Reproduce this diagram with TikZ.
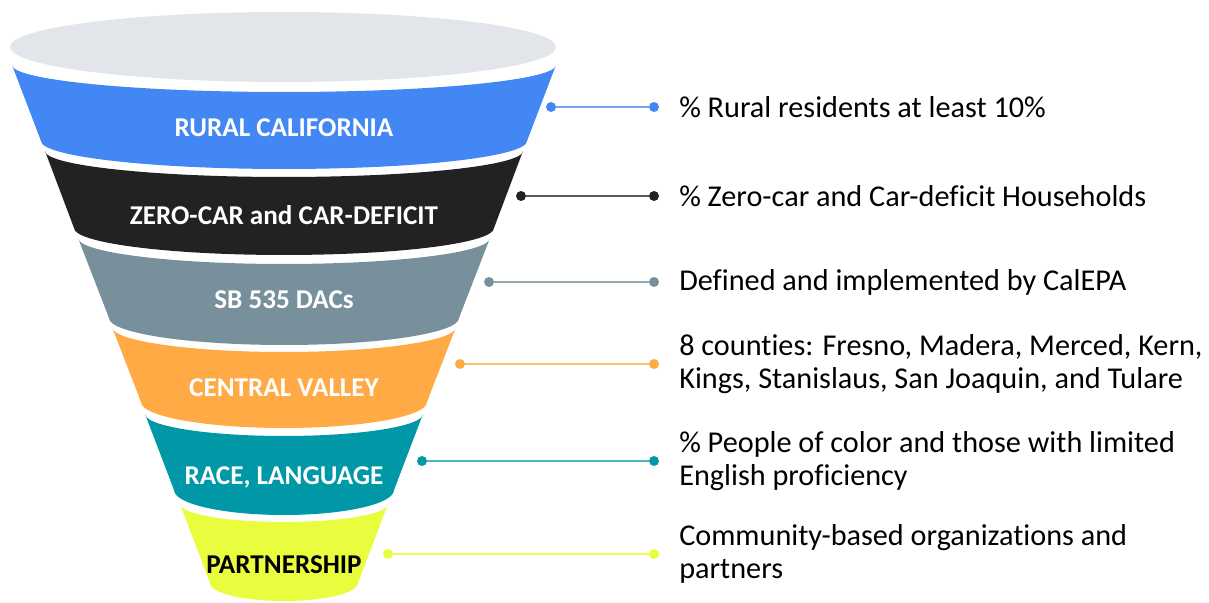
\documentclass[tikz,border=0pt]{standalone}
\usepackage{fontspec}
\setmainfont{Carlito}[Ligatures=NoCommon]
\usepackage{tikz}
\usetikzlibrary{positioning}

\definecolor{rimgray}{HTML}{E2E5EA}
\definecolor{ruralblue}{HTML}{4287F4}
\definecolor{carblack}{HTML}{222222}
\definecolor{dacgray}{HTML}{78909C}
\definecolor{valleyorange}{HTML}{FFAA44}
\definecolor{raceteal}{HTML}{0097A7}
\definecolor{partneryellow}{HTML}{EAFC3E}

\begin{document}
\begin{tikzpicture}[x=0.025cm, y=0.025cm,
    bandlabel/.style={text=white, font=\fontsize{19.3}{23}\selectfont\bfseries},
    dot/.style={circle, fill=#1, inner sep=0pt, minimum size=0.25cm},
    link/.style={line width=1.4pt, draw=#1},
    note/.style={anchor=west, inner sep=0pt, align=left, text=black,
      font=\fontsize{21.5}{24}\selectfont}]
    \useasboundingbox (0,0) rectangle (1209,603);

    % funnel rim
    \fill[rimgray] (283,556) ellipse [x radius=273, y radius=35];

    % bands, top to bottom
    \fill[ruralblue] (12,538) arc[start angle=180, end angle=360, x radius=272, y radius=27]
      -- (527,462) arc[start angle=0, end angle=-180, x radius=243, y radius=28] -- cycle;
    \fill[carblack] (45,452) arc[start angle=180, end angle=360, x radius=239, y radius=26]
      -- (494,375) arc[start angle=0, end angle=-180, x radius=210, y radius=27] -- cycle;
    \fill[dacgray] (78,365) arc[start angle=180, end angle=360, x radius=206, y radius=26]
      -- (459,285) arc[start angle=0, end angle=-180, x radius=175, y radius=27] -- cycle;
    \fill[valleyorange] (112,276) arc[start angle=180, end angle=360, x radius=172, y radius=25]
      -- (427,201) arc[start angle=0, end angle=-180, x radius=143, y radius=26] -- cycle;
    \fill[raceteal] (145,189) arc[start angle=180, end angle=360, x radius=139, y radius=22]
      -- (394,113) arc[start angle=0, end angle=-180, x radius=110, y radius=25] -- cycle;
    \fill[partneryellow] (180,99) arc[start angle=180, end angle=360, x radius=104, y radius=18]
      -- (358,20) arc[start angle=0, end angle=-180, x radius=74, y radius=18] -- cycle;

    \node[bandlabel] (rural) at (284,475) {RURAL CALIFORNIA};
    \node[bandlabel] (zerocar) at (284,388) {ZERO-CAR and CAR-DEFICIT};
    \node[bandlabel] (dacs) at (284,303) {SB 535 DACs};
    \node[bandlabel] (valley) at (284,215) {CENTRAL VALLEY};
    \node[bandlabel] (race) at (284,126) {RACE, LANGUAGE};
    \node[bandlabel, text=black] (partner) at (284,38) {PARTNERSHIP};

    % connectors
    \node[dot=ruralblue] (ruralL) at (551,496) {};
    \node[dot=ruralblue] (ruralR) at (654,496) {};
    \node[dot=carblack] (zerocarL) at (521,407) {};
    \node[dot=carblack] (zerocarR) at (654,407) {};
    \node[dot=dacgray] (dacsL) at (489,321) {};
    \node[dot=dacgray] (dacsR) at (654,321) {};
    \node[dot=valleyorange] (valleyL) at (460,239) {};
    \node[dot=valleyorange] (valleyR) at (654,239) {};
    \node[dot=raceteal] (raceL) at (422,142) {};
    \node[dot=raceteal] (raceR) at (654,142) {};
    \node[dot=partneryellow] (partnerL) at (388,49) {};
    \node[dot=partneryellow] (partnerR) at (654,49) {};
    \path[link=ruralblue!75] (ruralL) edge (ruralR);
    \path[link=carblack!75] (zerocarL) edge (zerocarR);
    \path[link=dacgray!80] (dacsL) edge (dacsR);
    \path[link=valleyorange!75] (valleyL) edge (valleyR);
    \path[link=raceteal!70] (raceL) edge (raceR);
    \path[link=partneryellow!90] (partnerL) edge (partnerR);

    % notes
    \node[note] (ruralT) at (679,496) {\% Rural residents at least 10\%};
    \node[note] (zerocarT) at (679,407) {\% Zero-car and Car-deficit Households};
    \node[note] (dacsT) at (679,321) {Defined and implemented by CalEPA};
    \node[note] (valleyT) at (679,239) {8 counties: Fresno, Madera, Merced, Kern,\\Kings, Stanislaus, San Joaquin, and Tulare};
    \node[note] (raceT) at (679,142) {\% People of color and those with limited\\English proficiency};
    \node[note] (partnerT) at (679,49) {Community-based organizations and\\partners};
  \end{tikzpicture}
\end{document}
